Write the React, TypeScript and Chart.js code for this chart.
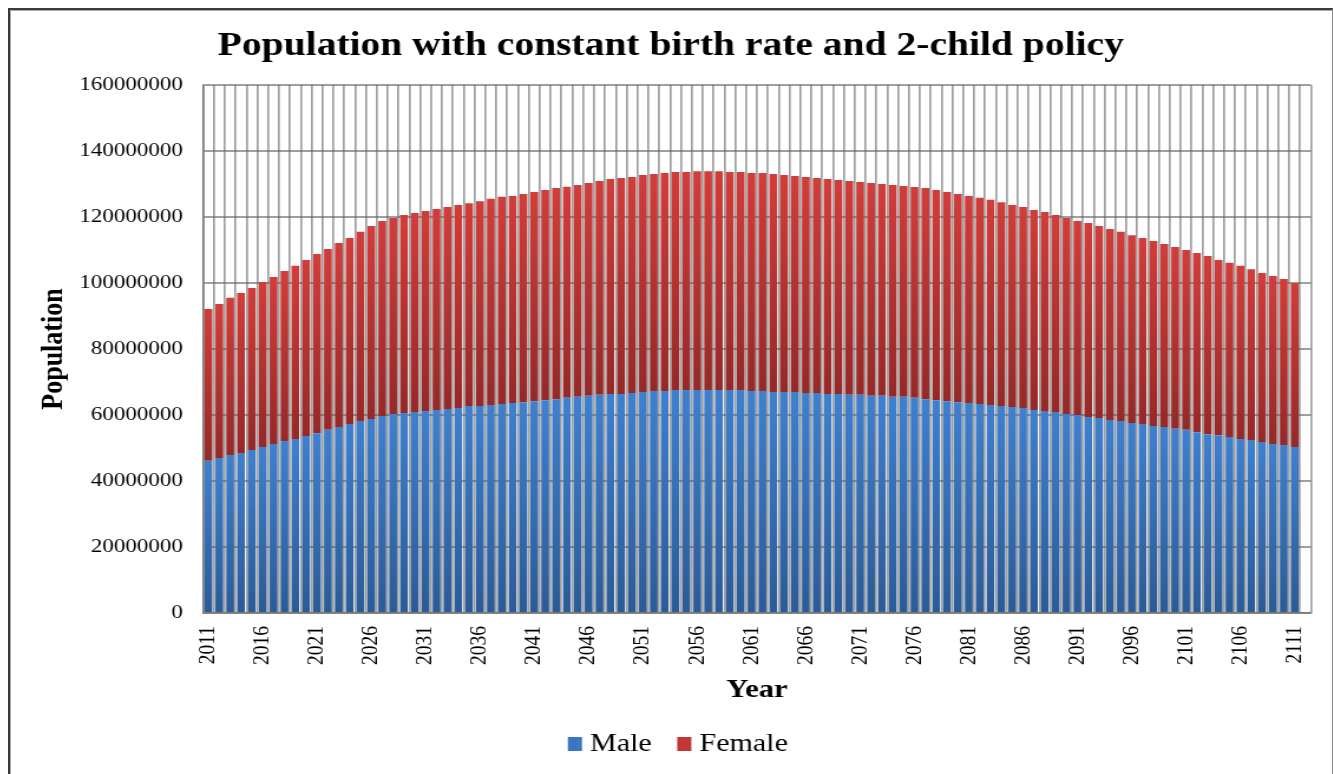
import { useEffect, useRef } from "react";
import { Chart, registerables } from "chart.js";

Chart.register(...registerables);

const years = [
  2011, 2012, 2013, 2014, 2015, 2016, 2017, 2018, 2019, 2020,
  2021, 2022, 2023, 2024, 2025, 2026, 2027, 2028, 2029, 2030,
  2031, 2032, 2033, 2034, 2035, 2036, 2037, 2038, 2039, 2040,
  2041, 2042, 2043, 2044, 2045, 2046, 2047, 2048, 2049, 2050,
  2051, 2052, 2053, 2054, 2055, 2056, 2057, 2058, 2059, 2060,
  2061, 2062, 2063, 2064, 2065, 2066, 2067, 2068, 2069, 2070,
  2071, 2072, 2073, 2074, 2075, 2076, 2077, 2078, 2079, 2080,
  2081, 2082, 2083, 2084, 2085, 2086, 2087, 2088, 2089, 2090,
  2091, 2092, 2093, 2094, 2095, 2096, 2097, 2098, 2099, 2100,
  2101, 2102, 2103, 2104, 2105, 2106, 2107, 2108, 2109, 2110,
  2111, 2112,
];

const tickYears = [
  2011, 2016, 2021, 2026, 2031, 2036, 2041, 2046, 2051, 2056, 2061,
  2066, 2071, 2076, 2081, 2086, 2091, 2096, 2101, 2106, 2111,
];

// population in millions (2112 slot is empty in the source chart)
const maleMillions: (number | null)[] = [
  46.1, 47.0, 47.9, 48.5, 49.4, 50.3, 51.2, 52.1, 52.7, 53.6,
  54.5, 55.5, 56.4, 57.3, 58.2, 58.8, 59.7, 60.3, 60.6, 60.9,
  61.2, 61.5, 61.8, 62.1, 62.7, 62.7, 63.0, 63.3, 63.6, 63.9,
  64.2, 64.5, 64.8, 65.2, 65.5, 65.8, 66.1, 66.4, 66.4, 66.7,
  67.0, 67.3, 67.3, 67.6, 67.6, 67.6, 67.6, 67.6, 67.6, 67.6,
  67.3, 67.3, 67.0, 67.0, 67.0, 66.7, 66.7, 66.4, 66.4, 66.1,
  66.1, 65.8, 65.8, 65.5, 65.5, 65.2, 64.8, 64.5, 64.2, 63.9,
  63.6, 63.3, 63.0, 62.7, 62.4, 62.1, 61.5, 61.2, 60.9, 60.3,
  60.0, 59.4, 59.1, 58.5, 58.2, 57.6, 57.3, 56.7, 56.4, 55.8,
  55.5, 54.8, 54.2, 53.9, 53.3, 52.7, 52.4, 51.8, 51.2, 50.9,
  50.3, null,
];

const femaleMillions: (number | null)[] = [
  46.0, 46.6, 47.6, 48.5, 49.1, 50.0, 50.6, 51.5, 52.5, 53.4,
  54.3, 54.8, 55.7, 56.3, 57.3, 58.5, 59.1, 59.4, 60.0, 60.3,
  60.6, 60.9, 61.2, 61.5, 61.5, 62.1, 62.5, 62.8, 62.8, 63.1,
  63.4, 63.7, 64.0, 64.0, 64.2, 64.5, 64.8, 65.1, 65.4, 65.4,
  65.7, 65.7, 66.0, 66.0, 66.0, 66.3, 66.3, 66.3, 66.0, 66.0,
  66.0, 66.0, 66.0, 65.7, 65.4, 65.4, 65.1, 65.1, 64.8, 64.8,
  64.5, 64.5, 64.2, 64.2, 63.9, 63.9, 64.0, 63.7, 63.4, 63.1,
  62.8, 62.5, 62.2, 61.8, 61.2, 60.9, 60.6, 60.3, 59.7, 59.4,
  58.8, 58.8, 58.2, 57.9, 57.3, 56.9, 56.3, 56.0, 55.4, 55.1,
  54.5, 54.3, 54.0, 53.1, 52.8, 52.5, 51.8, 51.2, 50.9, 50.3,
  49.7, null,
];

const seriesNames = ["Male", "Female"];

const yMin = 0;
const yMax = 160000000;
const yStep = 20000000;

const STRETCH = 1.18;
const LAYOUT_W = 1120;
const CANVAS_H = 764;
const FONT = "'Liberation Serif', 'Times New Roman', Times, serif";
const GRID = "rgba(100,100,100,0.62)";

const MALE_TOP = "#3f80ce";
const MALE_BOT = "#2b5b97";
const FEMALE_TOP = "#d23d3a";
const FEMALE_BOT = "#952928";
const LEGEND_COLORS = ["#3a76c2", "#c23633"];

const legendPlugin = {
  id: "bottomLegend",
  afterDraw(chart: any) {
    const ctx = chart.ctx as CanvasRenderingContext2D;
    ctx.save();
    ctx.font = `25.5px ${FONT}`;
    ctx.textBaseline = "middle";
    ctx.textAlign = "left";
    const boxW = 12;
    const boxH = 14;
    const gapText = 6.8;
    const gapItem = 21.5;
    const labels: string[] = chart.data.datasets.map((d: any) => d.label);
    const widths = labels.map((t) => ctx.measureText(t).width);
    let total = gapItem * (labels.length - 1);
    widths.forEach((w) => (total += boxW + gapText + w));
    let x = chart.width / 2 + 6 - total / 2;
    const cy = chart.height - 30;
    labels.forEach((t, i) => {
      ctx.fillStyle = LEGEND_COLORS[i];
      ctx.fillRect(x, cy - boxH / 2, boxW, boxH);
      x += boxW + gapText;
      ctx.fillStyle = "#000";
      ctx.fillText(t, x, cy);
      x += widths[i] + gapItem;
    });
    ctx.restore();
  },
};

export default function App() {
  const ref = useRef<HTMLCanvasElement>(null);

  useEffect(() => {
    const male = maleMillions.map((v) => (v == null ? null : v * 1000000));
    const female = femaleMillions.map((v) => (v == null ? null : v * 1000000));

    const fill =
      (topC: string, botC: string, lower: (number | null)[] | null, upper: (number | null)[]) =>
      (c: any) => {
        if (c.type !== "data") return topC;
        const i = c.dataIndex;
        const ys = c.chart.scales && c.chart.scales.y;
        const v = upper[i];
        if (!ys || v == null) return topC;
        const b = lower ? (lower[i] as number) || 0 : 0;
        const yTop = ys.getPixelForValue(b + v);
        const yBot = ys.getPixelForValue(b);
        if (!isFinite(yTop) || !isFinite(yBot) || yTop === yBot) return topC;
        const g = c.chart.ctx.createLinearGradient(0, yTop, 0, yBot);
        g.addColorStop(0, topC);
        g.addColorStop(1, botC);
        return g;
      };

    const chart = new Chart(ref.current as HTMLCanvasElement, {
      type: "bar",
      data: {
        labels: years.map(String),
        datasets: [
          {
            label: seriesNames[0],
            data: male,
            backgroundColor: fill(MALE_TOP, MALE_BOT, null, male),
            borderWidth: 0,
            categoryPercentage: 1,
            barPercentage: 0.72,
          },
          {
            label: seriesNames[1],
            data: female,
            backgroundColor: fill(FEMALE_TOP, FEMALE_BOT, male, female),
            borderWidth: 0,
            categoryPercentage: 1,
            barPercentage: 0.72,
          },
        ],
      },
      options: {
        animation: false,
        responsive: true,
        maintainAspectRatio: false,
        devicePixelRatio: 1,
        events: [],
        layout: { padding: { left: 17.5, right: 17.5, top: 0, bottom: 47 } },
        plugins: {
          tooltip: { enabled: false },
          legend: { display: false },
          title: {
            display: true,
            text: "Population with constant birth rate and 2-child policy",
            color: "#000",
            font: { family: FONT, size: 33.5, weight: "bold" },
            padding: { top: 16.6, bottom: 18.2 },
          },
        },
        scales: {
          x: {
            stacked: true,
            z: 1,
            grid: { color: GRID, lineWidth: 1.7, drawTicks: false, offset: true },
            border: { display: true, color: GRID, width: 1.7 },
            ticks: {
              autoSkip: false,
              maxRotation: 90,
              minRotation: 90,
              padding: 13,
              color: "#000",
              font: { family: FONT, size: 19.5 },
              callback: (_v: any, index: number) => {
                const y = years[index];
                return tickYears.includes(y) ? String(y) : "";
              },
            },
            title: {
              display: true,
              text: "Year",
              color: "#000",
              font: { family: FONT, size: 26, weight: "bold" },
              padding: { top: 0, bottom: 21.4 },
            },
            afterFit: (s: any) => {
              s.height = 114;
              s.paddingLeft = 0;
              s.paddingRight = 0;
            },
          },
          y: {
            stacked: true,
            min: yMin,
            max: yMax,
            z: 1,
            grid: { color: GRID, lineWidth: 2, drawTicks: false },
            border: { display: true, color: GRID, width: 1.7 },
            ticks: {
              stepSize: yStep,
              padding: 17,
              color: "#000",
              font: { family: FONT, size: 19.5 },
              callback: (v: any) => String(v),
            },
            title: {
              display: true,
              text: "Population",
              color: "#000",
              font: { family: FONT, size: 26, weight: "bold" },
              padding: { top: 4.2, bottom: 0 },
            },
            afterFit: (s: any) => {
              s.width = 146.06;
            },
          },
        },
      } as any,
      plugins: [legendPlugin],
    });
    return () => chart.destroy();
  }, []);

  return (
    <div
      style={{
        position: "fixed",
        left: 8,
        top: 8,
        width: 1325,
        height: CANVAS_H + 2,
        boxSizing: "border-box",
        borderLeft: "2px solid #3a3a3a",
        borderTop: "2px solid #3a3a3a",
        borderRight: "1px solid #8a8a8a",
        overflow: "hidden",
        boxShadow: "inset 1px 1px 0 #a8a8a8",
        background: "#fff",
      }}
    >
      <div
        style={{
          position: "absolute",
          left: 0,
          top: 0,
          width: LAYOUT_W,
          height: CANVAS_H,
          transform: `scaleX(${STRETCH})`,
          transformOrigin: "0 0",
        }}
      >
        <canvas ref={ref} />
      </div>
    </div>
  );
}
